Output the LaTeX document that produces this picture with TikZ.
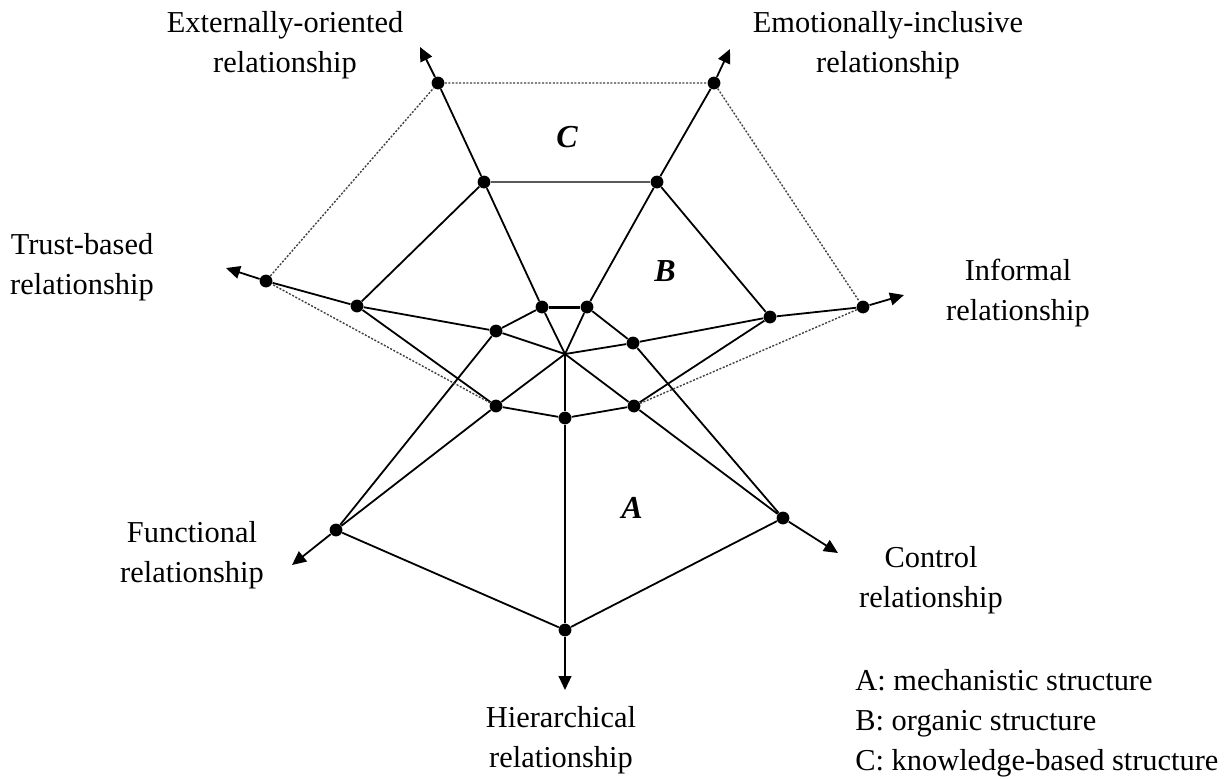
\documentclass[tikz,border=0pt]{standalone}
\usepackage{fontspec}
\setmainfont{Liberation Serif}
\usetikzlibrary{arrows.meta}

\begin{document}
\begin{tikzpicture}[x=0.5pt,y=-0.5pt,
  dot/.style={circle,fill=black,inner sep=0pt,minimum size=6.4pt},
  axis/.style={line width=0.9pt,-{Triangle[length=7pt,width=6.4pt]}},
  edge/.style={line width=0.9pt},
  faint/.style={line width=0.7pt,black!75,dash pattern=on 1pt off 0.8pt},
  lbl/.style={align=center,inner sep=0pt,font=\fontsize{15.2}{20}\selectfont},
  region/.style={font=\fontsize{16}{20}\selectfont\bfseries\itshape}]
\useasboundingbox (0,0) rectangle (1231,778);
\coordinate (O) at (565,354);
\coordinate (ext) at (420,47);
\coordinate (emo) at (730,49);
\coordinate (trust) at (226,268);
\coordinate (inf) at (904,295);
\coordinate (func) at (292,565);
\coordinate (ctrl) at (838,553);
\coordinate (hier) at (565,690);
\node[dot] (E1) at (542,307) {};
\node[dot] (E2) at (484,182) {};
\node[dot] (E3) at (438,83) {};
\node[dot] (M1) at (587,307) {};
\node[dot] (M2) at (657,182) {};
\node[dot] (M3) at (714,83) {};
\node[dot] (T1) at (496,331) {};
\node[dot] (T2) at (357,306) {};
\node[dot] (T3) at (266,281) {};
\node[dot] (I1) at (633,343) {};
\node[dot] (I2) at (770,317) {};
\node[dot] (I3) at (863,307) {};
\node[dot] (F1) at (496,406) {};
\node[dot] (F2) at (336,530) {};
\node[dot] (C1) at (634,406) {};
\node[dot] (C2) at (783,518) {};
\node[dot] (H1) at (565,418) {};
\node[dot] (H2) at (565,630) {};
% axes
\draw[axis] (O) -- (E1) -- (E2) -- (E3) -- (ext);
\draw[axis] (O) -- (M1) -- (M2) -- (M3) -- (emo);
\draw[axis] (O) -- (T1) -- (T2) -- (T3) -- (trust);
\draw[axis] (O) -- (I1) -- (I2) -- (I3) -- (inf);
\draw[axis] (O) -- (F1) -- (F2) -- (func);
\draw[axis] (O) -- (C1) -- (C2) -- (ctrl);
\draw[axis] (O) -- (H1) -- (H2) -- (hier);
% A: mechanistic
\draw[edge] (H2) -- (F2) -- (T1) -- (E1);
\draw[line width=1.5pt] (E1) -- (M1);
\draw[edge] (M1) -- (I1) -- (C2) -- (H2);
% B: organic
\draw[edge] (C1) -- (H1) -- (F1) -- (T2) -- (E2);
\draw[line width=0.7pt,black!65] (E2) -- (M2);
\draw[edge] (M2) -- (I2) -- (C1);
% C: knowledge-based
\draw[faint] (F1) -- (T3) -- (E3) -- (M3) -- (I3) -- (C1);
\node[region] (labA) at (632,508) {A};
\node[region] (labB) at (665,271) {B};
\node[region] (labC) at (567,137) {C};
\node[lbl] (extL) at (285,45) {Externally-oriented\\relationship};
\node[lbl] (emoL) at (888,45) {Emotionally-inclusive\\relationship};
\node[lbl] (trustL) at (82,267) {Trust-based\\relationship};
\node[lbl] (infL) at (1018,293) {Informal\\relationship};
\node[lbl] (funcL) at (192,555) {Functional\\relationship};
\node[lbl] (ctrlL) at (931,580) {Control\\relationship};
\node[lbl] (hierL) at (561,740) {Hierarchical\\relationship};
\node[lbl,align=left,anchor=west] (legend) at (855,723) {A: mechanistic structure\\B: organic structure\\C: knowledge-based structure};
\end{tikzpicture}
\end{document}
